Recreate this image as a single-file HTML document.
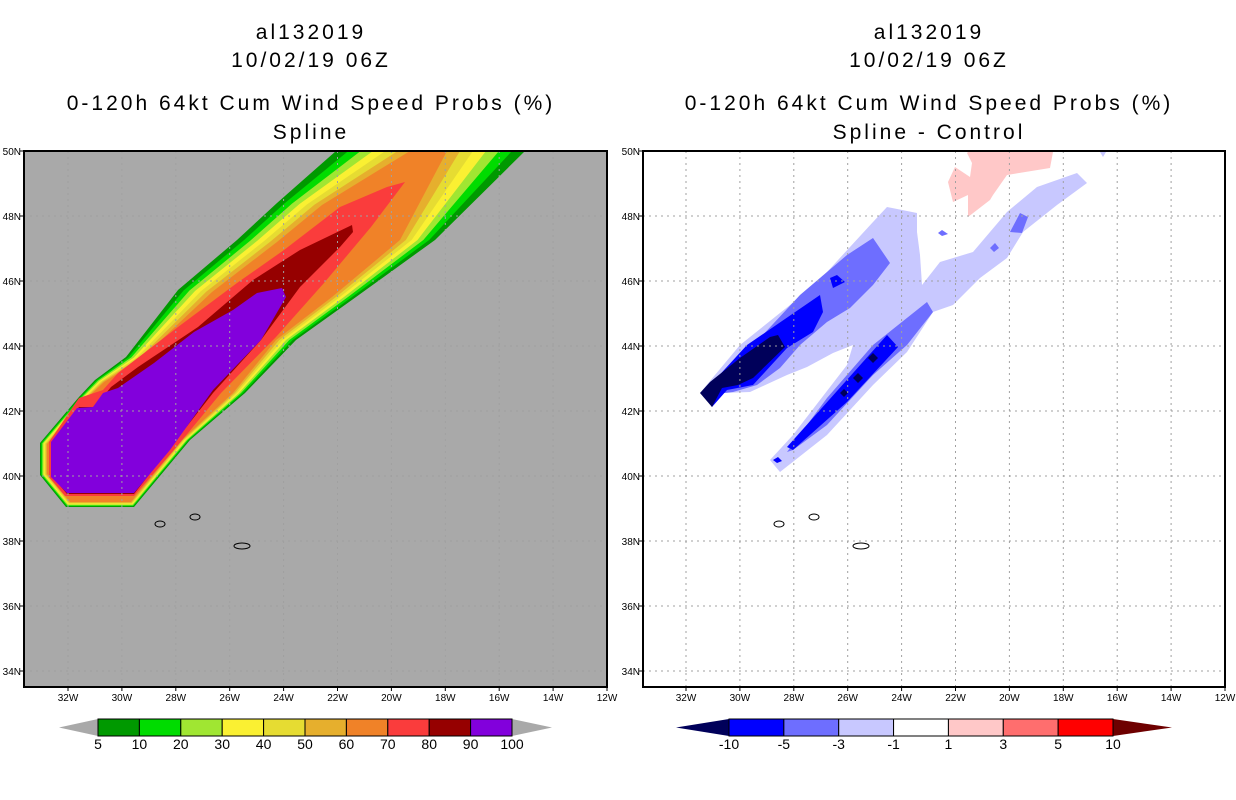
<!DOCTYPE html>
<html><head><meta charset="utf-8">
<style>
html,body{margin:0;padding:0;background:#fff;}
svg{display:block;font-family:"Liberation Sans",sans-serif;}
.t{font-size:21px;text-anchor:middle;fill:#000;letter-spacing:3px}
.tk{font-size:10px;fill:#000}
.cb{font-size:14px;fill:#000;text-anchor:middle}
</style></head>
<body>
<svg id="chart" width="1236" height="800" viewBox="0 0 1236 800" xmlns="http://www.w3.org/2000/svg">
<rect width="1236" height="800" fill="#fff"/>
<g id="titles">
<text class="t" x="311" y="39">al132019</text>
<text class="t" x="311" y="67">10/02/19 06Z</text>
<text class="t" x="311" y="110">0-120h 64kt Cum Wind Speed Probs (%)</text>
<text class="t" x="311" y="139">Spline</text>
<text class="t" x="929" y="39">al132019</text>
<text class="t" x="929" y="67">10/02/19 06Z</text>
<text class="t" x="929" y="110">0-120h 64kt Cum Wind Speed Probs (%)</text>
<text class="t" x="929" y="139">Spline - Control</text>
</g>
<g id="left"></g>
<g id="right"></g>
<g id="cbars"></g>
</svg>
<script>
const NS="http://www.w3.org/2000/svg";
const lonTicks=[32,30,28,26,24,22,20,18,16,14,12];
const latTicks=[50,48,46,44,42,40,38,36,34];
const leftLevels=["5","10","20","30","40","50","60","70","80","90","100"];
const leftColors=["#009900","#00dc00","#a0e632","#faf032","#e6dc32","#e6af2d","#f08228","#fa3c3c","#960000","#8200dc"];
const rightLevels=["-10","-5","-3","-1","1","3","5","10"];
const rightColors=["#0000ff","#6e6eff","#c8c8ff","#ffffff","#ffc8c8","#ff6e6e","#ff0000"];

// contour geometry (map-frame pixel space)
const P5=[[336,151],[277,203],[237,240],[178,290],[126,357],[95,380],[79,397],[40,443],[40,475],[66,507],[134,507],[190,440],[245,393],[296,340],[356,297],[435,240],[525,151]];
const P60=[[410,151],[322,205],[277,242],[212,292],[142,358],[104,382],[87,398],[47,444],[47,474],[70,502],[131,502],[182,440],[233,393],[276,340],[332,297],[400,240],[447,151]];
const P70=[[405,182],[387,187],[340,207],[284,250],[237,283],[178,327],[118,373],[103,390],[79,398],[49,442],[49,477],[65,496],[134,496],[174,450],[221,393],[276,337],[324,283],[371,227]];
const P80=[[352,225],[300,250],[253,280],[198,327],[138,367],[111,387],[95,407],[79,407],[51,443],[51,475],[67,494],[134,494],[170,448],[213,393],[261,340],[300,287],[340,247],[353,232]];
const P90=[[282,288],[257,293],[233,310],[194,332],[154,363],[118,388],[103,393],[93,407],[77,408],[51,442],[51,477],[67,493],[134,493],[170,450],[213,390],[261,340],[286,297]];
const RL=[[700,393],[740,345],[790,305],[827,272],[873,222],[887,207],[917,213],[917,232],[920,255],[922,285],[940,262],[973,252],[1007,212],[1037,187],[1077,173],[1087,183],[1057,205],[1023,232],[1007,258],[980,278],[953,305],[933,312],[907,352],[873,385],[827,435],[780,472],[770,460],[793,435],[847,365],[853,345],[833,353],[807,367],[787,375],[750,392],[723,393]];
const RM=[[[707,395],[747,352],[800,295],[847,255],[873,238],[890,263],[873,285],[850,308],[827,322],[800,345],[780,368],[757,385],[733,392]],
 [[787,452],[827,398],[873,345],[927,302],[933,312],[907,345],[873,375],[827,425],[793,450]],
 [[1010,232],[1020,213],[1028,217],[1022,233]],[[990,248],[995,243],[999,248],[994,252]],[[938,233],[942,230],[948,234],[942,236]]];
const RB=[[[703,393],[747,345],[820,295],[823,312],[813,332],[787,348],[753,385],[727,390],[712,407]],
 [[787,447],[887,335],[898,347],[847,402],[793,450]],
 [[830,278],[837,275],[845,282],[833,288]],[[773,460],[778,457],[782,461],[777,463]]];
const RN=[[[700,393],[710,382],[740,358],[770,337],[778,335],[785,347],[753,378],[738,385],[722,388],[712,407]],
 [[873,353],[878,358],[873,363],[868,358]],[[858,373],[863,378],[858,383],[853,378]],[[844,389],[848,393],[844,397],[840,393]]];
const RP=[[968,152],[1053,152],[1050,168],[1007,175],[993,195],[990,200],[968,217],[968,195],[953,202],[948,182],[955,167],[970,177],[972,163],[967,153]];
const islands=[[160,524],[195,517],[242,546]];

function el(tag,attrs,parent){const e=document.createElementNS(NS,tag);for(const k in attrs)e.setAttribute(k,attrs[k]);parent.appendChild(e);return e;}
function pts(a){return a.map(p=>p[0]+","+p[1]).join(" ");}
function lerpPoly(a,b,t){return a.map((p,i)=>[p[0]+(b[i][0]-p[0])*t,p[1]+(b[i][1]-p[1])*t]);}

function panel(g,x0,x1,bg,clipId){
  const y0=151,y1=687;
  const Y=lat=>151+(50-lat)*32.5;
  const defs=el("defs",{},g);
  const cp=el("clipPath",{id:clipId},defs);
  el("rect",{x:x0,y:y0,width:x1-x0,height:y1-y0},cp);
  const bgr=el("rect",{x:x0,y:y0,width:x1-x0,height:y1-y0,fill:bg},g);
  
  
  const c=el("g",{"clip-path":"url(#"+clipId+")"},g);
  return {c,Y,y0,y1};
}

const L=document.getElementById("left");
const lp=panel(L,24,607,"#a9a9a9","clipL");
for(let i=0;i<6;i++){
  const poly=el("polygon",{points:pts(lerpPoly(P5,P60,i/6)),fill:leftColors[i]},lp.c);
  
  
}
[[P60,6],[P70,7],[P80,8],[P90,9]].forEach(([p,i])=>{
  const poly=el("polygon",{points:pts(p),fill:leftColors[i]},lp.c);
  
  
});
const R=document.getElementById("right");
const rp=panel(R,643,1225,"#ffffff","clipR");
function addR(list,color,name){list.forEach(p=>{const poly=el("polygon",{points:pts(p),fill:color},rp.c);
  
  });}
addR([RP],rightColors[4],'diff-contour-pos1');
addR([RL],rightColors[2],'diff-contour-neg1');
addR(RM,rightColors[1],'diff-contour-neg3');
addR(RB,rightColors[0],'diff-contour-neg5');
addR(RN,"#00005a",'diff-contour-neg10');
el("polygon",{points:"1100,152 1106,152 1103,157",fill:rightColors[2]},rp.c);

function decorate(p,g,x0,x1){
  const X=lon=>x1-(lon-12)*26.95;
  const Y=p.Y;
  const gg=el("g",{stroke:"#a0a0a0","stroke-width":1,"stroke-dasharray":"2,4"},p.c);
  
  
  lonTicks.forEach(lon=>{if(lon>12)el("line",{x1:X(lon),x2:X(lon),y1:p.y0,y2:p.y1},gg);});
  latTicks.forEach(lat=>{if(lat<50)el("line",{x1:x0,x2:x1,y1:Y(lat),y2:Y(lat)},gg);});
  islands.forEach((s,i)=>{
    const ix=s[0]+(x0-24);
    const isl=el("ellipse",{cx:ix,cy:s[1],rx:i==2?8:5,ry:3,fill:"none",stroke:"#000","stroke-width":1},p.c);
    
    
  });
  const fr=el("rect",{x:x0,y:p.y0,width:x1-x0,height:p.y1-p.y0,fill:"none",stroke:"#000","stroke-width":2},g);
  
  
  lonTicks.forEach(lon=>{
    el("line",{x1:X(lon),x2:X(lon),y1:p.y1,y2:p.y1+4,stroke:"#000"},g);
    const t=el("text",{x:X(lon),y:p.y1+14,class:"tk","text-anchor":"middle"},g);
    t.textContent=lon+"W";
    
    
  });
  latTicks.forEach(lat=>{
    el("line",{x1:x0-4,x2:x0,y1:Y(lat),y2:Y(lat),stroke:"#000"},g);
    const t=el("text",{x:x0-3,y:Y(lat)+4,class:"tk","text-anchor":"end"},g);
    t.textContent=lat+"N";
    
    
  });
}
decorate(lp,L,24,607);
decorate(rp,R,643,1225);

const CB=document.getElementById("cbars");
function colorbar(bx0,bx1,tipL,tipR,colors,levels,lc,rc,name){
  const y0=719,y1=736,ym=727.5;
  const g=el("g",{},CB);
  
  
  el("polygon",{points:`${tipL},${ym} ${bx0},${y0} ${bx0},${y1}`,fill:lc},g);
  el("polygon",{points:`${tipR},${ym} ${bx1},${y0} ${bx1},${y1}`,fill:rc},g);
  const w=(bx1-bx0)/colors.length;
  colors.forEach((c,i)=>{
    const r=el("rect",{x:bx0+i*w,y:y0,width:w,height:y1-y0,fill:c,stroke:"#000","stroke-width":1},g);
    
    
  });
  levels.forEach((l,i)=>{
    const off=colors.length+1===levels.length?0:1;
    const x=bx0+(i+off)*w;
    const t=el("text",{x:x,y:749,class:"cb"},g);
    t.textContent=l;
    
    
  });
}
colorbar(98,512,59,552,leftColors,leftLevels,"#a9a9a9","#a9a9a9",'left-colorbar');
colorbar(729,1113,676,1172,rightColors,rightLevels,"#00005a","#6e0000",'right-colorbar');
</script>
</body></html>
